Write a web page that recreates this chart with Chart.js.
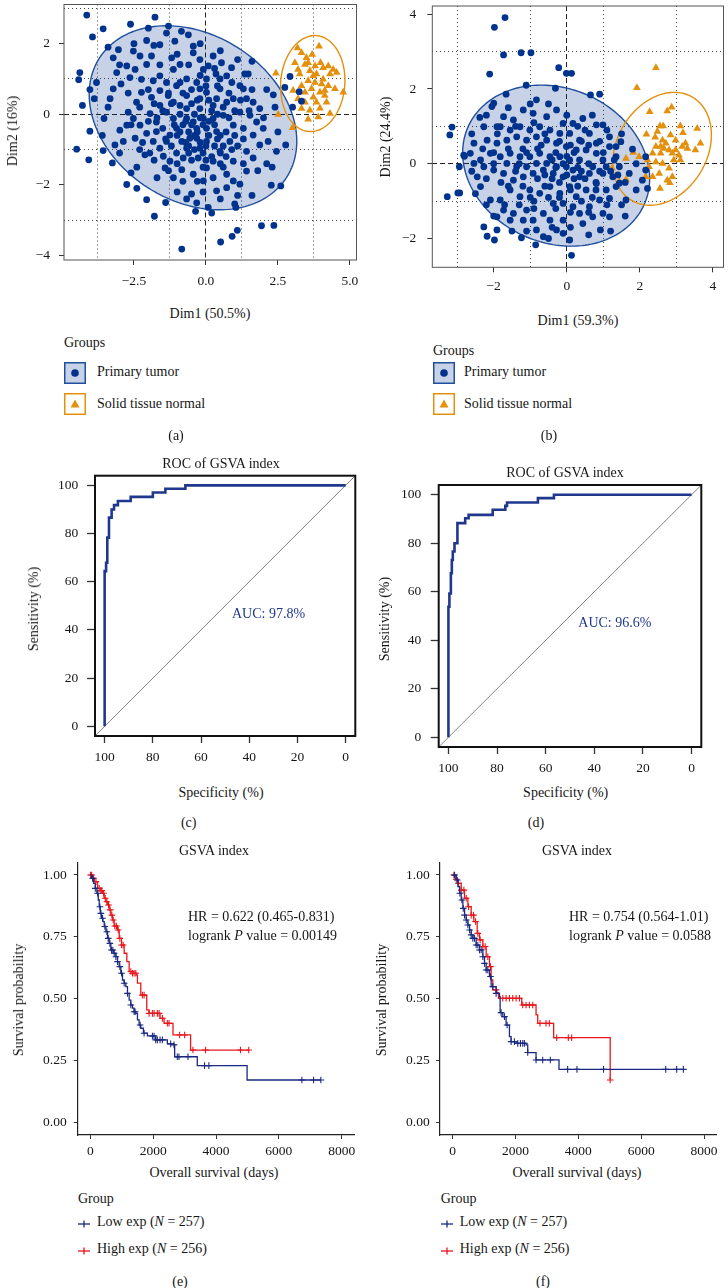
<!DOCTYPE html>
<html>
<head>
<meta charset="utf-8">
<script src="https://cdn.jsdelivr.net/npm/chart.js@4/dist/chart.umd.min.js"></script>
<style>
body { margin: 0; width: 728px; height: 1288px; background: #fff; position: relative; overflow: hidden;
       font-family: "Liberation Serif", "Times New Roman", serif; color: #161616; }
.t { position: absolute; white-space: nowrap; font-size: 14px; line-height: 1; }
.sw { position: absolute; }
</style>
</head>
<body>
<script>
// ---------- data ----------
// PCA (a): Dim1 / Dim2 coordinates
const tumorA = [[-4.14,2.81],[-3.94,2.19],[-3.57,2.42],[-2.62,2.55],[-1.77,2.75],[-4.38,1.18],[-4.42,0.98],[-4.03,0.70],[-4.29,0.25],[-3.88,0.44],[-4.03,-0.48],[-4.49,-0.99],[-4.07,-1.29],[-3.57,-1.03],[-3.25,-1.38],[-3.16,-0.87],[-2.75,-1.99],[-2.60,-1.66],[-2.06,-2.42],[-1.79,-2.89],[-0.84,-3.82],[0.51,-3.62],[0.91,-3.46],[1.09,-3.29],[1.93,-3.16],[2.36,-3.15],[2.60,-2.03],[2.27,-2.01],[2.11,-1.40],[2.77,-0.87],[2.34,0.55],[2.11,0.70],[2.74,0.76],[2.92,1.07],[3.24,0.64],[3.32,0.37],[3.01,0.20],[1.10,1.55],[1.35,1.14],[1.47,1.14],[-0.32,-2.51],[-0.36,-2.75],[0.08,-2.64],[1.00,-2.54],[1.04,-2.64],[-0.50,-2.26],[-0.67,-2.40],[-1.13,-1.80],[-1.42,-1.52],[-1.95,-1.10],[-2.12,-1.15],[-2.46,-0.68],[-2.87,-0.77],[-2.99,-0.45],[-2.75,-0.31],[-3.54,-0.12],[-2.70,0.06],[-3.33,0.44],[-3.22,0.72],[-2.95,0.86],[-3.10,1.18],[-3.22,1.60],[-3.04,1.83],[-2.52,1.79],[-2.46,1.27],[-2.64,1.04],[-2.06,2.09],[-2.00,2.44],[-1.81,1.95],[-1.60,1.97],[-1.37,2.30],[-1.08,2.07],[-0.85,2.35],[-0.61,2.25],[-0.44,1.74],[-0.44,1.93],[-0.09,1.27],[0.08,1.37],[0.35,1.14],[0.72,1.09],[-1.19,1.60],[-0.90,1.41],[-2.06,1.41],[-2.24,0.99],[-1.83,0.95],[-2.24,0.62],[-1.89,0.48],[-1.60,0.67],[-1.37,0.90],[-2.41,0.34],[-1.94,0.02],[-2.29,-0.31],[-1.72,-0.49],[-1.37,-0.77],[-1.02,-1.10],[-0.67,-0.96],[-0.27,-1.24],[0.02,-1.52],[0.25,-1.80],[0.72,-1.70],[0.95,-1.33],[1.41,-1.05],[1.64,-0.59],[1.76,-0.22],[1.87,0.16],[1.41,0.44],[1.18,0.81],[0.95,0.44],[0.49,0.72],[0.25,0.25],[0.60,-0.03],[0.95,-0.31],[0.37,-0.49],[0.02,-0.77],[-0.32,-0.40],[-0.67,-0.12],[-0.90,0.25],[-1.13,-0.12],[-0.67,0.53],[-0.21,0.72],[-0.21,0.16],[-0.44,-0.22],[-0.09,-0.12],[-1.02,-0.40],[-1.37,0.06],[-1.60,0.25],[-1.31,0.53],[-1.02,0.81],[-0.67,1.00],[-0.32,0.90],[0.02,0.62],[0.37,0.44],[0.72,0.34],[1.18,0.06],[1.30,-0.40],[0.83,-0.77],[0.49,-1.05],[0.25,-1.33],[-0.21,-0.96],[-0.56,-0.68],[-0.79,-1.24],[-1.25,-1.33],[-1.60,-0.96],[-1.83,-0.77],[-2.06,-0.54],[-2.52,-0.12],[-1.72,-0.22],[-1.25,-0.59],[1.64,-1.24],[1.87,-0.87],[1.41,-1.61],[0.95,-1.89],[0.72,-2.08],[0.37,-2.17],[-0.09,-1.89],[-0.44,-1.70],[-0.84,-1.57],[-1.48,-1.19],[1.18,-1.98],[-0.21,0.44],[0.02,1.00],[0.49,1.00],[0.89,1.32],[1.30,0.72],[1.64,0.34],[1.53,-0.03],[1.99,-0.40],[2.16,-0.77],[2.45,-1.05],[-0.67,0.16],[0.02,-0.40],[0.25,-0.12],[-0.32,-0.68],[-0.84,-0.77],[-1.13,0.34],[-1.60,1.09],[-1.13,1.27],[-1.89,1.65],[-2.29,1.65],[-2.75,1.37],[-0.21,1.55],[0.25,1.65],[0.54,1.46],
  [-0.5,-0.3],[-0.3,-0.5],[-0.1,-0.3],[0.1,-0.6],[-0.6,-0.5],[-0.8,-0.3],[-0.4,0.0],[-0.2,-0.8],[0.3,-0.3],[0.5,-0.6],[0.6,-0.9],[-1.0,-0.6],[-0.9,0.0],[-0.5,0.3],[0.2,0.1],[0.4,0.0],[0.8,-0.1],[1.0,-0.6],[0.7,-1.2],[0.3,-0.9],[-0.1,-1.1],[-0.4,-1.0],[-0.7,-0.8],[-1.2,-0.9],[-1.5,-0.4],[-1.2,0.3],[-0.8,0.6],[-0.3,0.4],[0.1,0.4],[0.6,0.2],[1.0,0.1],[1.1,-0.9],[0.5,-1.4],[0.0,-1.3],[-0.5,-1.3],[-1.0,-1.4],[-1.5,0.1],[-2.0,-0.2],[-1.8,0.3],[-2.2,-0.8],
  [-0.2,-0.1],[0.1,-0.2],[-0.4,-0.6],[0.0,-0.9],[0.4,-0.7],[-0.7,-0.2],[-0.9,-0.5],[0.7,-0.5],[0.5,-1.1],[-0.1,-1.5],[-0.6,-1.1],[-1.1,-0.3],[-1.4,-0.7],[-1.7,-0.1],[-1.3,0.6],[-0.9,0.9],[-0.5,0.7],[0.0,0.8],[0.4,0.8],[0.8,0.6],[1.2,0.4],[1.5,0.1],[1.3,-0.7],[0.9,-1.0],[0.6,-1.5],[0.2,-1.2],[-0.3,-1.9],[-0.8,-1.9],[-1.3,-1.6],[-1.8,-1.3],[-2.3,-1.0],[-2.6,-0.3],[-2.3,0.2],[-2.0,0.7],[-2.7,0.6],[-1.6,1.4],[-1.0,1.7],[-0.6,1.4],[-0.2,1.1],[0.3,1.3],[0.9,0.9],[1.6,0.7],[2.0,-0.1],[1.8,-1.6],[1.3,-1.4],[1.1,-2.3],[0.5,-2.4],[-0.1,-2.2],[-1.0,-2.2],[-1.7,-1.8],[-2.4,-1.5],[-3.0,-1.1],[-3.4,0.2],[-3.0,1.4],[-2.5,2.0],[-1.3,2.5],[-0.2,2.0],[0.5,1.8],[1.6,1.5],[2.4,0.2],[2.5,-0.5],[2.3,-1.5],[1.6,-2.3],[0.2,-2.8],[-1.4,-2.5],[-2.4,-2.1],[-3.6,-0.6],[-3.8,0.9],[-3.4,1.9],[-0.6,-0.9]];
const normalA = [[3.18,1.88],[3.93,1.93],[3.32,1.74],[3.69,1.69],[3.09,1.46],[3.44,1.41],[3.98,1.46],[4.25,1.37],[4.42,1.27],[3.61,1.23],[3.84,1.14],[3.26,1.14],[4.07,1.32],[2.43,1.16],[3.55,0.95],[3.79,0.90],[4.02,0.86],[4.25,0.81],[3.32,0.81],[3.67,0.72],[3.96,0.62],[4.77,0.62],[3.03,0.67],[4.13,0.53],[3.44,0.34],[3.84,0.34],[3.32,0.16],[3.61,0.11],[3.96,0.17],[4.31,0.02],[3.55,-0.14],[2.51,-0.01],[3.01,-0.38],[3.73,1.09],[3.49,1.60],[3.20,1.27],[3.79,1.37],[4.07,0.99],[4.31,1.14],[3.44,0.62],[3.73,0.48],[3.20,0.44],[4.19,0.34],[4.48,0.72],[3.90,-0.08],[4.13,0.67],[4.54,1.18],[3.55,1.46]];
// ellipse: centre x, centre y, var x, var y, cov xy
const ellTumorA = [-0.45, -0.10, 13.0, 6.8, -2.4];
const ellNormalA = [3.71, 0.87, 1.25, 1.85, 0.1];
const ticksXA = [-2.5, 0, 2.5, 5];
const ticksYA = [-4, -2, 0, 2];
const gridXA = [-3.75, -1.25, 1.25, 3.75];
const gridYA = [-3, -1, 1, 3];

// PCA (b)
const tumorB = [[-1.69,3.91],[-1.98,3.65],[-1.73,2.91],[-1.25,2.97],[-0.98,2.97],[-2.11,2.40],[-0.22,2.57],[-0.01,2.42],[0.13,2.42],[-1.11,2.10],[-1.66,1.86],[0.65,1.84],[0.90,1.86],[-0.31,2.02],[-0.83,1.71],[-3.14,0.98],[-3.20,0.77],[-3.27,-0.88],[-2.98,-0.78],[-2.93,-0.78],[-2.94,-0.08],[-2.82,0.23],[-2.64,0.28],[-2.38,1.24],[-2.27,-1.69],[-2.18,-1.94],[-1.98,-2.04],[-1.91,-1.77],[-1.24,-1.98],[-0.85,-2.17],[0.08,-2.04],[0.13,-2.45],[0.92,-1.77],[1.80,0.39],[1.48,0.59],[2.16,0.19],[2.21,-0.66],[2.07,-0.44],[2.16,-0.17],[1.44,-0.52],[1.62,-0.97],[1.17,-0.93],
  [-2.00,1.62],[-2.05,1.53],[-1.73,1.26],[-1.46,1.17],[-1.19,1.44],[-0.92,1.35],[-0.55,1.26],[-0.28,1.44],[-0.10,1.08],[0.17,1.08],[0.44,1.21],[0.81,1.04],[0.99,1.04],[0.62,0.81],[0.35,0.63],[0.81,0.55],[1.17,0.46],[1.35,0.19],[0.99,0.10],[0.71,-0.08],[0.99,-0.26],[1.26,-0.35],[0.81,-0.53],[0.53,-0.70],[0.26,-0.88],[0.90,-0.97],[0.62,-1.15],[0.35,-1.33],[-0.10,-1.51],[-0.37,-1.06],[-0.64,-1.33],[-0.92,-1.51],[-1.10,-1.24],[-1.46,-1.33],[-1.73,-1.24],[-1.82,-0.97],[-1.55,-0.70],[-1.28,-0.88],[-1.01,-0.70],[-0.74,-0.79],[-0.46,-0.61],[-0.19,-0.79],[0.08,-0.61],[-0.10,-0.35],[-0.37,-0.26],[-0.64,-0.17],[-0.92,-0.26],[-1.19,-0.35],[-1.46,-0.44],[-1.73,-0.26],[-2.00,-0.17],[-2.27,-0.08],[-2.45,-0.35],[-2.36,0.10],[-2.09,0.28],[-1.82,0.19],[-1.55,0.28],[-1.28,0.19],[-1.01,0.19],[-0.74,0.28],[-0.46,0.19],[-0.19,0.19],[0.08,0.10],[0.35,0.10],[0.26,0.37],[-0.01,0.46],[-0.28,0.55],[-0.55,0.63],[-0.83,0.72],[-1.10,0.63],[-1.37,0.72],[-1.64,0.63],[-1.91,0.55],[-2.18,0.63],[-1.82,0.99],[-1.55,0.90],[-1.28,0.99],[-1.01,0.90],[-0.74,0.99],[-0.46,0.90],[-0.19,0.81],[0.08,0.81],[0.53,0.37],[0.62,-0.26],[0.35,-0.35],[0.17,-0.17],[-0.01,-0.08],[-0.28,-0.08],[-0.55,0.01],[-0.83,0.01],[-1.10,-0.08],[-1.37,-0.08],[-1.64,0.01],[-0.10,-1.06],[0.17,-1.15],[-0.46,-1.51],[-0.28,-1.77],[-0.83,-1.77],[-1.19,-1.51],[-1.55,-1.51],[-1.91,-1.42],[-2.09,-0.97],[-2.36,-0.61],[-2.54,0.01],[-2.54,0.55],[-2.27,0.99],[-1.91,0.99],[0.81,0.28],[1.08,-0.08],[1.44,-0.08],[1.71,-0.26],[1.35,0.46],[1.17,0.72],[1.35,-0.61],[1.08,-0.70],[0.71,-1.42],[0.99,-1.33],[1.17,-1.42],[0.44,-1.60],[-0.10,-1.86],[-0.64,-1.95],
  [0.0,-0.3],[0.2,-0.4],[-0.2,-0.5],[0.4,-0.2],[-0.4,-0.4],[0.1,-0.7],[0.3,-0.6],[-0.1,0.0],[0.5,-0.4],[-0.3,-0.1],[0.6,0.0],[-0.6,-0.6],[0.8,-0.5],[-0.8,0.4],[0.2,0.3],[-0.2,0.6],[0.4,0.6],[1.0,0.3],[1.2,-0.2],[-1.2,0.4],[-1.0,-0.9],[0.7,-0.9],[-0.3,-1.2],[-1.6,-0.6],[-2.0,0.3],
  [-0.5,-0.9],[-0.8,-0.4],[-1.1,0.3],[-1.4,-0.2],[-1.8,-0.5],[-2.2,-0.4],[-2.6,-0.2],[-2.3,0.4],[-1.9,0.8],[-1.4,1.0],[-0.9,1.1],[-0.6,0.8],[-0.3,0.3],[0.1,0.5],[0.5,0.9],[0.9,0.6],[1.3,0.1],[1.6,-0.5],[1.5,-1.1],[1.1,-1.1],[0.6,-1.3],[0.1,-1.3],[-0.4,-1.7],[-0.9,-1.2],[-1.3,-1.1],[-1.7,-1.1],[-2.0,-1.4],[-2.2,-1.1],[-2.5,-0.8],[-2.8,0.2],[-2.6,0.8],[-2.2,1.3],[-1.6,1.5],[-1.0,1.6],[-0.5,1.6],[0.0,1.3],[0.3,1.0],[0.7,1.3],[1.1,0.9],[1.5,0.8],[1.9,0.0],[1.9,-0.7],[1.6,-1.4],[1.2,-1.8],[0.6,-1.9],[0.1,-1.7],[-0.5,-2.0],[-1.1,-1.8],[-1.5,-1.8],[0.3,-0.1],[-0.6,-0.3],[-1.2,-0.6],[0.9,-0.2],[0.4,-1.0],[-0.2,-0.9],[-0.7,0.5],[-1.6,0.4],[-2.0,0.0],[0.6,0.5],[1.4,-0.3],[-0.9,-1.0],[0.0,0.2],[-0.4,0.1],[0.8,-0.7],[-1.3,0.0]];
const normalB = [[2.44,2.57],[1.92,2.03],[2.27,1.39],[2.75,1.41],[2.87,1.51],[2.55,1.01],[2.64,1.01],[3.11,1.01],[3.57,0.94],[3.18,0.83],[2.18,0.79],[2.42,0.71],[2.84,0.77],[2.62,0.63],[2.44,0.46],[2.66,0.41],[2.80,0.37],[2.98,0.37],[3.16,0.46],[3.30,0.41],[3.25,0.55],[3.66,0.55],[3.52,0.37],[2.35,0.28],[2.57,0.28],[2.89,0.28],[3.07,0.23],[1.62,0.14],[1.82,0.30],[1.98,0.19],[2.21,0.10],[2.44,0.05],[2.62,0.01],[2.93,0.10],[3.11,0.10],[1.24,-0.12],[1.44,-0.48],[1.62,-0.42],[2.16,-0.35],[2.35,-0.35],[2.53,-0.26],[2.80,-0.12],[2.89,-0.35],[2.75,-0.44],[2.82,-0.51],[2.55,-0.66],[2.25,-0.08],[2.57,0.46],[2.71,0.55],[2.98,0.63],[2.48,0.86]];
const ellTumorB = [-0.29, -0.05, 6.55, 4.64, -0.88];
const ellNormalB = [2.61, 0.40, 1.82, 2.28, 0.5];
const ticksXB = [-2, 0, 2, 4];
const ticksYB = [-2, 0, 2, 4];
const gridXB = [-3, -1, 1, 3];
const gridYB = [-1, 1, 3];

// ROC curves (specificity %, sensitivity %)
const rocSpecC = [100,100,99.4,99.4,98.9,98.9,98.2,98.2,97.1,97.1,96.1,96.1,94.5,94.5,89.2,89.2,80.0,80.0,74.8,74.8,66.5,66.5,0];
const rocSensC = [0,64.4,64.4,67.9,67.9,78.3,78.3,86.6,86.6,90.0,90.0,91.8,91.8,93.5,93.5,95.2,95.2,97.0,97.0,98.6,98.6,100,100];
const rocSpecD = [100,100,99.6,99.6,99.0,99.0,98.6,98.6,98.2,98.2,97.5,97.5,96.3,96.3,93.1,93.1,91.7,91.7,81.8,81.8,76.6,76.6,75.9,75.9,63.2,63.2,56.6,56.6,0];
const rocSensD = [0,53.8,53.8,59.3,59.3,67.6,67.6,73.1,73.1,76.6,76.6,80,80,88.3,88.3,90.3,90.3,91.7,91.7,93.8,93.8,95.4,95.4,96.8,96.8,98.6,98.6,100,100];
const rocTicks = [100, 80, 60, 40, 20, 0];

// Kaplan-Meier (days, survival)
const lowTimeE = [0,42,106,159,211,254,285,317,359,402,444,497,550,602,655,740,814,867,920,972,1025,1078,1131,1184,1237,1290,1342,1395,1448,1501,1554,1607,1691,1818,2082,2452,2664,2685,3404,4989,7336];
const lowSurvE = [1,0.987,0.966,0.946,0.926,0.899,0.872,0.845,0.825,0.812,0.792,0.771,0.744,0.724,0.697,0.684,0.670,0.650,0.630,0.603,0.576,0.563,0.549,0.522,0.495,0.475,0.462,0.448,0.441,0.415,0.394,0.381,0.361,0.350,0.334,0.318,0.314,0.266,0.230,0.172,0.172];
const highTimeE = [0,74,127,233,338,391,444,497,550,602,655,708,761,867,920,994,1078,1163,1237,1342,1480,1501,1607,1776,1797,1871,2220,2347,2632,3192,5042];
const highSurvE = [1,0.987,0.973,0.946,0.937,0.926,0.906,0.892,0.879,0.859,0.838,0.818,0.794,0.778,0.744,0.717,0.684,0.650,0.610,0.603,0.596,0.563,0.515,0.513,0.455,0.441,0.421,0.401,0.354,0.293,0.293];
const lowCensE = [74,159,233,307,338,391,465,529,571,624,676,719,761,814,867,941,994,1078,1184,1290,1395,1427,1586,1712,1977,2029,2082,2135,2220,2294,2558,2664,2769,2822,3108,3636,3774,6733,7103,7336];
const highCensE = [10,42,106,180,285,338,370,423,476,529,581,634,687,729,782,835,888,941,994,1046,1290,1342,1395,1448,1659,1712,1871,1977,2029,2135,2188,2294,2452,2505,2843,3002,3266,3668,4778,5042];

const lowTimeF = [0,116,169,222,275,328,381,434,487,540,592,645,751,857,963,1016,1069,1174,1227,1386,1492,1513,1598,1703,1809,1862,2021,2338,2391,2656,3386,7364];
const lowSurvF = [1,0.980,0.953,0.926,0.899,0.865,0.838,0.818,0.798,0.778,0.758,0.744,0.717,0.697,0.670,0.643,0.616,0.590,0.549,0.522,0.509,0.444,0.428,0.394,0.347,0.327,0.320,0.314,0.283,0.253,0.215,0.215];
const highTimeF = [0,85,169,275,381,487,592,677,783,857,963,1069,1174,1227,1280,1407,1460,2201,2656,2709,3216,5015];
const highSurvF = [1,0.983,0.966,0.939,0.906,0.872,0.838,0.812,0.764,0.738,0.711,0.670,0.630,0.576,0.536,0.525,0.502,0.475,0.435,0.401,0.343,0.172];
const lowCensF = [63,148,233,296,339,381,434,487,540,592,645,698,751,804,857,910,963,1016,1069,1121,1206,1280,1386,1545,1650,1735,1862,1967,2074,2159,2233,2285,2391,2656,2867,3110,3661,3957,4803,6782,7131,7343];
const highCensF = [42,116,190,275,360,434,508,592,666,730,804,878,963,1037,1121,1206,1386,1598,1703,1809,1915,2021,2127,2233,2338,2444,2550,2783,2973,3079,3312,3682,3788,5015];
const kmTicksX = [0, 2000, 4000, 6000, 8000];
const kmTicksY = [0, 0.25, 0.5, 0.75, 1];

// ---------- styling ----------
const NAVY = '#00338d', ORANGE = '#e3900c', ELL_BLUE = '#1f4f9e';
const ROC_BLUE = '#1f378c', KM_BLUE = '#1b2a80', KM_RED = '#e8171c';
Chart.defaults.font.family = '"Liberation Serif", "Times New Roman", serif';
Chart.defaults.color = '#161616';

function makeCanvas(r) {
  const c = document.createElement('canvas');
  c.width = r.w; c.height = r.h;
  c.style.cssText = `position:absolute;left:${r.x}px;top:${r.y}px;width:${r.w}px;height:${r.h}px`;
  document.body.appendChild(c);
  return c;
}
function pad(r, a, wy, hx) {
  return { left: a.L - r.x - wy, top: a.T - r.y, right: r.x + r.w - a.R, bottom: r.y + r.h - a.B - hx };
}
const signed = d => v => (v < 0 ? '\u2212' : '') + Math.abs(v).toFixed(d);
const fixTicks = vals => s => { s.ticks = vals.map(v => ({ value: v })); };
// fixed axis size, and no extra room reserved for overhanging tick labels
const fixSize = (horizontal, size) => s => {
  if (horizontal) s.height = size; else s.width = size;
  s.paddingTop = s.paddingBottom = s.paddingLeft = s.paddingRight = 0;
};

function mainAxis(horizontal, min, max, ticks, fmt, size, tl, tp, border) {
  return {
    type: 'linear', position: horizontal ? 'bottom' : 'left', min, max,
    afterBuildTicks: fixTicks(ticks),
    afterFit: fixSize(horizontal, size),
    ticks: { callback: fmt, font: { size: 13.5 }, color: '#161616', padding: tp, maxRotation: 0, autoSkip: false },
    grid: { display: true, drawOnChartArea: false, drawTicks: true, tickLength: tl, tickColor: '#333', tickWidth: 1 },
    border: border || { display: false }
  };
}
function gridAxis(horizontal, min, max, vals, color, dash) {
  return {
    type: 'linear', position: horizontal ? 'bottom' : 'left', min, max,
    afterBuildTicks: fixTicks(vals),
    afterFit: fixSize(horizontal, 0),
    ticks: { display: false },
    grid: { display: true, drawOnChartArea: true, drawTicks: false, color, lineWidth: 1 },
    border: { display: false, dash }
  };
}
const framePlugin = (color, width) => ({
  id: 'frame',
  afterDraw(chart) {
    const { ctx, chartArea: ca } = chart;
    ctx.save(); ctx.strokeStyle = color; ctx.lineWidth = width;
    ctx.strokeRect(ca.left, ca.top, ca.width, ca.height); ctx.restore();
  }
});
const ellipsePlugin = list => ({
  id: 'ellipses',
  beforeDatasetsDraw(chart) {
    const { ctx, chartArea: ca, scales: { x, y } } = chart;
    ctx.save();
    ctx.beginPath(); ctx.rect(ca.left, ca.top, ca.width, ca.height); ctx.clip();
    list.forEach(e => {
      const [cx, cy, sxx, syy, sxy] = e.p;
      const l11 = Math.sqrt(sxx), l21 = sxy / l11, l22 = Math.sqrt(syy - l21 * l21);
      ctx.beginPath();
      for (let k = 0; k <= 180; k++) {
        const t = k / 180 * 2 * Math.PI;
        const px = x.getPixelForValue(cx + l11 * Math.cos(t));
        const py = y.getPixelForValue(cy + l21 * Math.cos(t) + l22 * Math.sin(t));
        if (k) ctx.lineTo(px, py); else ctx.moveTo(px, py);
      }
      ctx.closePath();
      if (e.fill) { ctx.fillStyle = e.fill; ctx.fill(); }
      ctx.strokeStyle = e.stroke; ctx.lineWidth = 1.4; ctx.stroke();
    });
    ctx.restore();
  }
});
const baseOpts = (r, a, wy, hx) => ({
  responsive: false, animation: false, devicePixelRatio: 1,
  layout: { padding: pad(r, a, wy, hx) },
  plugins: { legend: { display: false }, tooltip: { enabled: false } }
});

// ---------- PCA panels ----------
function pcaChart(r, a, c) {
  const opts = baseOpts(r, a, 40, 30);
  opts.scales = {
    x: mainAxis(true, c.xmin, c.xmax, c.ticksX, signed(c.dx), 30, 5, c.xpad),
    y: mainAxis(false, c.ymin, c.ymax, c.ticksY, signed(0), 40, 5, c.ypad),
    gx: gridAxis(true, c.xmin, c.xmax, c.gridX, '#444', [1, 3]),
    gy: gridAxis(false, c.ymin, c.ymax, c.gridY, '#444', [1, 3]),
    zx: gridAxis(true, c.xmin, c.xmax, [0], '#222', [5, 3]),
    zy: gridAxis(false, c.ymin, c.ymax, [0], '#222', [5, 3])
  };
  new Chart(makeCanvas(r), {
    type: 'scatter',
    data: { datasets: [
      { label: 'Primary tumor', data: c.tumor.map(p => ({ x: p[0], y: p[1] })), pointStyle: 'circle',
        pointRadius: 3.4, backgroundColor: NAVY, borderWidth: 0 },
      { label: 'Solid tissue normal', data: c.normal.map(p => ({ x: p[0], y: p[1] })), pointStyle: 'triangle',
        pointRadius: 4.5, backgroundColor: ORANGE, borderWidth: 0 }
    ] },
    options: opts,
    plugins: [ellipsePlugin([
      { p: c.ellT, fill: 'rgba(0,51,141,0.22)', stroke: ELL_BLUE },
      { p: c.ellN, fill: null, stroke: ORANGE }
    ]), framePlugin('#555', 1)]
  });
}
pcaChart({ x: 0, y: 0, w: 364, h: 300 }, { L: 64, T: 1, R: 356.5, B: 260 }, {
  xmin: -4.93, xmax: 5.23, ymin: -4.13, ymax: 3.11, ticksX: ticksXA, ticksY: ticksYA, dx: 1,
  gridX: gridXA, gridY: gridYA, tumor: tumorA, normal: normalA, ellT: ellTumorA, ellN: ellNormalA, xpad: 8.6, ypad: 9
});
pcaChart({ x: 364, y: 0, w: 364, h: 300 }, { L: 432.3, T: 6, R: 725.7, B: 267.3 }, {
  xmin: -3.68, xmax: 4.29, ymin: -2.77, ymax: 4.22, ticksX: ticksXB, ticksY: ticksYB, dx: 0,
  gridX: gridXB, gridY: gridYB, tumor: tumorB, normal: normalB, ellT: ellTumorB, ellN: ellNormalB, xpad: 6.3, ypad: 11
});

// ---------- ROC panels ----------
function rocChart(r, a, spec, sens, xpad, ypad) {
  const opts = baseOpts(r, a, 40, 30);
  const x = mainAxis(true, -4, 104, rocTicks, v => String(v), 30, 7, xpad);
  x.reverse = true;
  x.grid.tickWidth = 1.3;
  const y = mainAxis(false, -4, 104, rocTicks, v => String(v), 40, 8, ypad);
  y.grid.tickWidth = 1.3;
  opts.scales = { x, y };
  new Chart(makeCanvas(r), {
    type: 'line',
    data: { datasets: [
      { data: spec.map((s, i) => ({ x: s, y: sens[i] })), borderColor: ROC_BLUE, borderWidth: 2.6,
        pointRadius: 0, tension: 0 },
      { data: [104, -4].map(s => ({ x: s, y: 100 - s })), borderColor: '#666', borderWidth: 0.8,
        pointRadius: 0 }
    ] },
    options: opts,
    plugins: [framePlugin('#111', 2)]
  });
}
rocChart({ x: 0, y: 440, w: 364, h: 340 }, { L: 95, T: 475.7, R: 355.3, B: 736 }, rocSpecC, rocSensC, 6.6, 8.7);
rocChart({ x: 364, y: 440, w: 364, h: 340 }, { L: 438.7, T: 485, R: 701.3, B: 747 }, rocSpecD, rocSensD, 6, 9.4);

// ---------- Kaplan-Meier panels ----------
function survAt(times, surv, t) {
  let s = surv[0];
  times.forEach((ti, i) => { if (ti <= t) s = surv[i]; });
  return s;
}
function kmChart(r, a, g, ypad) {
  const opts = baseOpts(r, a, 40, 25);
  const axisLine = { display: true, color: '#222', width: 1.2 };
  opts.scales = {
    x: mainAxis(true, -400, 8400, kmTicksX, v => String(v), 25, 4, 4, axisLine),
    y: mainAxis(false, -0.05, 1.05, kmTicksY, v => v.toFixed(2), 40, 4, ypad, axisLine)
  };
  const curve = (t, s, color) => ({ data: t.map((ti, i) => ({ x: ti, y: s[i] })), stepped: 'before',
    borderColor: color, borderWidth: 1.3, pointRadius: 0 });
  const cens = (c, t, s, color) => ({ data: c.map(ti => ({ x: ti, y: survAt(t, s, ti) })), showLine: false,
    pointStyle: 'cross', pointRadius: 3.3, borderColor: color, borderWidth: 1.1 });
  new Chart(makeCanvas(r), {
    type: 'line',
    data: { datasets: [
      curve(g.lt, g.ls, KM_BLUE), cens(g.lc, g.lt, g.ls, KM_BLUE),
      curve(g.ht, g.hs, KM_RED), cens(g.hc, g.ht, g.hs, KM_RED)
    ] },
    options: opts
  });
}
kmChart({ x: 0, y: 855, w: 364, h: 310 }, { L: 77.7, T: 862.6, R: 354.3, B: 1135 },
  { lt: lowTimeE, ls: lowSurvE, lc: lowCensE, ht: highTimeE, hs: highSurvE, hc: highCensE }, 7);
kmChart({ x: 364, y: 855, w: 364, h: 310 }, { L: 440, T: 862.6, R: 716.6, B: 1135 },
  { lt: lowTimeF, ls: lowSurvF, lc: lowCensF, ht: highTimeF, hs: highSurvF, hc: highCensF }, 6.3);

// ---------- text ----------
function txt(html, x, y, o = {}) {
  const d = document.createElement('div');
  d.className = 't';
  d.innerHTML = html;
  let tf = o.left ? 'translate(0,-50%)' : 'translate(-50%,-50%)';
  if (o.rot) tf += ' rotate(-90deg)';
  d.style.left = x + 'px'; d.style.top = y + 'px'; d.style.transform = tf;
  if (o.color) d.style.color = o.color;
  document.body.appendChild(d);
}
function svg(x, y, w, h, inner) {
  const d = document.createElement('div');
  d.className = 'sw';
  d.style.left = x + 'px'; d.style.top = y + 'px';
  d.innerHTML = `<svg width="${w}" height="${h}" viewBox="0 0 ${w} ${h}">${inner}</svg>`;
  document.body.appendChild(d);
}
function pcaLegend(x, yTitle, y1, y2, tx) {
  txt('Groups', x, yTitle, { left: true });
  svg(x, y1, 22, 22, `<rect x="0.75" y="0.75" width="20.5" height="20.5" fill="rgba(0,51,141,0.22)" stroke="${ELL_BLUE}" stroke-width="1.5"/><circle cx="11" cy="11" r="3.8" fill="${NAVY}"/>`);
  svg(x, y2, 22, 22, `<rect x="0.75" y="0.75" width="20.5" height="20.5" fill="#fff" stroke="${ORANGE}" stroke-width="1.5"/><path d="M11 6.5 L15.5 14.5 L6.5 14.5 Z" fill="${ORANGE}"/>`);
  txt('Primary tumor', tx, y1 + 10.5, { left: true });
  txt('Solid tissue normal', tx, y2 + 10.5, { left: true });
}
txt('Dim2 (16%)', 13, 131, { rot: true });
txt('Dim1 (50.5%)', 210, 314);
pcaLegend(64, 343, 361.7, 393.3, 97);
txt('(a)', 176, 436);
txt('Dim2 (24.4%)', 385.7, 137, { rot: true });
txt('Dim1 (59.3%)', 578, 321);
pcaLegend(433, 350.7, 361.7, 393.3, 464);
txt('(b)', 549, 436);

txt('ROC of GSVA index', 221, 464);
txt('Sensitivity (%)', 34, 609, { rot: true });
txt('Specificity (%)', 221, 792.7);
txt('AUC: 97.8%', 232, 614, { left: true, color: ROC_BLUE });
txt('(c)', 188.7, 823);
txt('ROC of GSVA index', 565, 473);
txt('Sensitivity (%)', 384.7, 619, { rot: true });
txt('Specificity (%)', 565.7, 792.7);
txt('AUC: 96.6%', 578.3, 623.3, { left: true, color: ROC_BLUE });
txt('(d)', 536, 823);

function kmText(cx, yl, ax, hr, p, lx, label) {
  txt('GSVA index', cx, 851);
  txt('Survival probability', yl, 1000, { rot: true });
  txt('Overall survival (days)', cx, 1173.3);
  txt(hr, ax, 916.7, { left: true });
  txt(`logrank <i>P</i> value = ${p}`, ax, 936, { left: true });
  txt('Group', lx, 1199, { left: true });
  const icon = color => `<line x1="0" y1="6" x2="12" y2="6" stroke="${color}" stroke-width="1.3"/><line x1="6" y1="2.5" x2="6" y2="9.5" stroke="${color}" stroke-width="1.3"/>`;
  svg(lx, 1216, 12, 12, icon(KM_BLUE));
  svg(lx, 1243, 12, 12, icon(KM_RED));
  txt('Low exp (<i>N</i> = 257)', lx + 19, 1222, { left: true });
  txt('High exp (<i>N</i> = 256)', lx + 19, 1249, { left: true });
  txt(label, cx - 34, 1281.7);
}
kmText(214, 19, 188, 'HR = 0.622 (0.465-0.831)', '0.00149', 78, '(e)');
kmText(577, 382.3, 569, 'HR = 0.754 (0.564-1.01)', '0.0588', 440.7, '(f)');
</script>
</body>
</html>
